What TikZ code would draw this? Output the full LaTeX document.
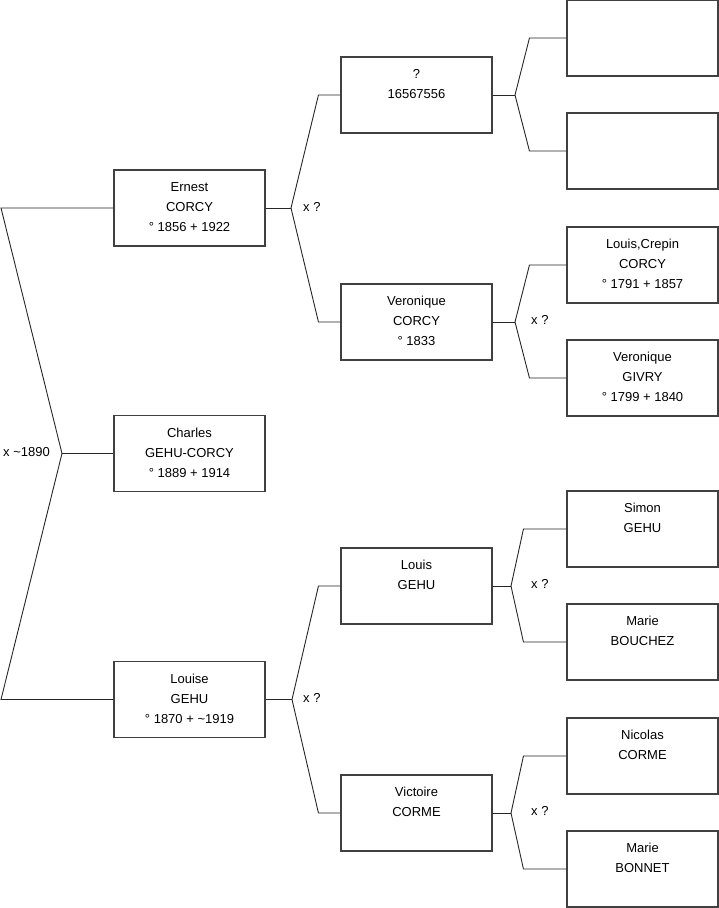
\documentclass[tikz,border=0pt]{standalone}
\usepackage{fontspec}
\setmainfont{Liberation Sans}
\begin{document}
\begin{tikzpicture}[x=1pt,y=-1pt,
  person/.style={draw=black!75, line width=1.1pt, fill=white, minimum width=151pt, minimum height=76pt, inner sep=0pt},
  ptext/.style={anchor=north, align=center, inner sep=0pt, font=\fontsize{13}{20}\selectfont},
  lbl/.style={anchor=west, inner sep=0pt, font=\fontsize{13}{15}\selectfont},
  conn/.style={draw=black!85, line width=0.9pt}]
\useasboundingbox (0,0) rectangle (719,908);
% boxes
\node[person] (ernest)  at (189.5,208)   {};
\node[person] (charles) at (189.5,453.5) {};
\node[person] (louise)  at (189.5,699.5) {};
\node[person] (q)       at (416.5,95)    {};
\node[person] (vc)      at (416.5,322)   {};
\node[person] (lg)      at (416.5,586)   {};
\node[person] (vic)     at (416.5,813)   {};
\node[person] (e1)      at (642.5,38)    {};
\node[person] (e2)      at (642.5,151)   {};
\node[person] (lc)      at (642.5,265)   {};
\node[person] (vg)      at (642.5,378)   {};
\node[person] (sg)      at (642.5,529)   {};
\node[person] (mb)      at (642.5,642)   {};
\node[person] (nc)      at (642.5,756)   {};
\node[person] (mbo)     at (642.5,869)   {};
% texts
\node[ptext] (ernest-t)  at ([yshift=-12.5pt]ernest.north)  {Ernest\\CORCY\\° 1856 + 1922};
\node[ptext] (charles-t) at ([yshift=-12.5pt]charles.north) {Charles\\GEHU-CORCY\\° 1889 + 1914};
\node[ptext] (louise-t)  at ([yshift=-12.5pt]louise.north)  {Louise\\GEHU\\° 1870 + \textasciitilde1919};
\node[ptext] (q-t)       at ([yshift=-12.5pt]q.north)       {?\\16567556};
\node[ptext] (vc-t)      at ([yshift=-12.5pt]vc.north)      {Veronique\\CORCY\\° 1833};
\node[ptext] (lg-t)      at ([yshift=-12.5pt]lg.north)      {Louis\\GEHU};
\node[ptext] (vic-t)     at ([yshift=-12.5pt]vic.north)     {Victoire\\CORME};
\node[ptext] (lc-t)      at ([yshift=-12.5pt]lc.north)      {Louis,Crepin\\CORCY\\° 1791 + 1857};
\node[ptext] (vg-t)      at ([yshift=-12.5pt]vg.north)      {Veronique\\GIVRY\\° 1799 + 1840};
\node[ptext] (sg-t)      at ([yshift=-12.5pt]sg.north)      {Simon\\GEHU};
\node[ptext] (mb-t)      at ([yshift=-12.5pt]mb.north)      {Marie\\BOUCHEZ};
\node[ptext] (nc-t)      at ([yshift=-12.5pt]nc.north)      {Nicolas\\CORME};
\node[ptext] (mbo-t)     at ([yshift=-12.5pt]mbo.north)     {Marie\\BONNET};
% left bracket
\coordinate (m0) at (62,453.5);
\coordinate (c0a) at (1,208);
\coordinate (c0b) at (1,699.5);
\draw[conn] (ernest.west) -- (c0a) -- (m0) -- (c0b) -- (louise.west);
\draw[conn] (m0) -- (charles.west);
\node[lbl] (l0) at (3,452) {x \textasciitilde1890};
% Ernest bracket
\coordinate (m1) at (291,208);
\draw[conn] (ernest.east) -- (m1);
\draw[conn] (m1) -- ([xshift=-22pt]q.west) -- (q.west);
\draw[conn] (m1) -- ([xshift=-22pt]vc.west) -- (vc.west);
\node[lbl] (l1) at (303,207) {x ?};
% Louise bracket
\coordinate (m2) at (292,699.5);
\draw[conn] (louise.east) -- (m2);
\draw[conn] (m2) -- ([xshift=-22pt]lg.west) -- (lg.west);
\draw[conn] (m2) -- ([xshift=-22pt]vic.west) -- (vic.west);
\node[lbl] (l2) at (303,698) {x ?};
% ? bracket
\coordinate (m3) at (515,95);
\draw[conn] (q.east) -- (m3);
\draw[conn] (m3) -- ([xshift=-37pt]e1.west) -- (e1.west);
\draw[conn] (m3) -- ([xshift=-37pt]e2.west) -- (e2.west);
% Veronique bracket
\coordinate (m4) at (515,322);
\draw[conn] (vc.east) -- (m4);
\draw[conn] (m4) -- ([xshift=-37pt]lc.west) -- (lc.west);
\draw[conn] (m4) -- ([xshift=-37pt]vg.west) -- (vg.west);
\node[lbl] (l4) at (531,320) {x ?};
% Louis bracket
\coordinate (m5) at (511,586);
\draw[conn] (lg.east) -- (m5);
\draw[conn] (m5) -- ([xshift=-43pt]sg.west) -- (sg.west);
\draw[conn] (m5) -- ([xshift=-43pt]mb.west) -- (mb.west);
\node[lbl] (l5) at (531,584) {x ?};
% Victoire bracket
\coordinate (m6) at (511,813);
\draw[conn] (vic.east) -- (m6);
\draw[conn] (m6) -- ([xshift=-43pt]nc.west) -- (nc.west);
\draw[conn] (m6) -- ([xshift=-43pt]mbo.west) -- (mbo.west);
\node[lbl] (l6) at (531,811) {x ?};
\end{tikzpicture}
\end{document}
